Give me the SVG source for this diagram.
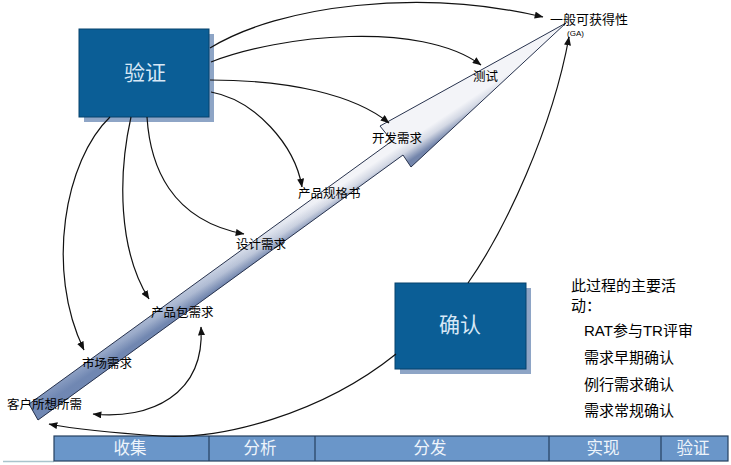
<svg xmlns="http://www.w3.org/2000/svg" width="731" height="465" viewBox="0 0 731 465">
<style>
.lbl{font-family:"Liberation Sans","Noto Sans CJK SC",sans-serif;font-size:12.5px;fill:#000}
.side{font-family:"Liberation Sans","Noto Sans CJK SC",sans-serif;font-size:15px;fill:#000}
.box{fill:#0b5e96;stroke:#07426c;stroke-width:1}
.shadow{fill:#8ea5c6}
.boxtxt{font-family:"Liberation Sans","Noto Sans CJK SC",sans-serif;font-size:21px;fill:#d8e8f6;text-anchor:middle}
.bar{fill:#6a96c9;stroke:#25405f;stroke-width:1.2}
.bartxt{font-family:"Liberation Sans","Noto Sans CJK SC",sans-serif;font-size:16.5px;fill:#eef4fb;text-anchor:middle}
.conn{fill:none;stroke:#111;stroke-width:1.2}
</style>
<defs>
<marker id="ah" viewBox="0 0 10 8" refX="9.5" refY="4" markerWidth="9" markerHeight="7" markerUnits="userSpaceOnUse" orient="auto-start-reverse">
<path d="M0,0 L10,4 L0,8 z" fill="#111"/>
</marker>
<linearGradient id="across" gradientUnits="userSpaceOnUse" x1="200" y1="279" x2="210" y2="294">
<stop offset="0" stop-color="#f3f4f8"/>
<stop offset="0.45" stop-color="#d3d8e4"/>
<stop offset="1" stop-color="#7385ab"/>
</linearGradient>
<linearGradient id="along" gradientUnits="userSpaceOnUse" x1="35" y1="412" x2="330" y2="200">
<stop offset="0" stop-color="#6f88b5" stop-opacity="0.85"/>
<stop offset="1" stop-color="#6f88b5" stop-opacity="0"/>
</linearGradient>
</defs>
<rect width="731" height="465" fill="#ffffff"/>
<line x1="3" y1="461.5" x2="54" y2="461.5" stroke="#a9c3cc" stroke-width="1.5"/>

<g id="main-arrow">
<polygon points="29,404 392,141 380,126 566,23 411,167 403,155 38,420" fill="url(#across)"/>
<polygon points="29,404 392,141 380,126 566,23 411,167 403,155 38,420" fill="url(#along)" stroke="#27324d" stroke-width="1"/>
</g>

<g id="node-verify">
<rect class="shadow" x="84" y="34" width="130" height="88"/>
<rect class="box" x="79" y="29" width="130" height="88"/>
<text class="boxtxt" x="145" y="80">验证</text>
</g>

<g id="node-confirm">
<rect class="shadow" x="400" y="288" width="131" height="86"/>
<rect class="box" x="395" y="283" width="131" height="86"/>
<text class="boxtxt" x="460" y="332">确认</text>
</g>

<g id="phase-bar">
<rect class="bar" x="54" y="436" width="674" height="25"/>
<line x1="209" y1="436" x2="209" y2="461" stroke="#25405f" stroke-width="1.2"/>
<line x1="315" y1="436" x2="315" y2="461" stroke="#25405f" stroke-width="1.2"/>
<line x1="549" y1="436" x2="549" y2="461" stroke="#25405f" stroke-width="1.2"/>
<line x1="661" y1="436" x2="661" y2="461" stroke="#25405f" stroke-width="1.2"/>
<text class="bartxt" x="130" y="454">收集</text>
<text class="bartxt" x="260" y="454">分析</text>
<text class="bartxt" x="430" y="454">分发</text>
<text class="bartxt" x="603" y="454">实现</text>
<text class="bartxt" x="693" y="454">验证</text>
</g>

<g id="connectors">
<path class="conn" d="M210,48 C280,5 420,-12 543,17" marker-end="url(#ah)"/>
<path class="conn" d="M211,62 C280,35 420,20 481,65" marker-end="url(#ah)"/>
<path class="conn" d="M210,80 C290,80 355,95 389,123" marker-end="url(#ah)"/>
<path class="conn" d="M211,92 C255,100 295,145 302,187" marker-end="url(#ah)"/>
<path class="conn" d="M147,117 C150,165 170,220 244,234" marker-end="url(#ah)"/>
<path class="conn" d="M131,117 C118,175 118,250 149,299" marker-end="url(#ah)"/>
<path class="conn" d="M110,117 C65,160 45,270 84,350" marker-end="url(#ah)"/>
<path class="conn" d="M396,354 C320,415 220,440 160,436 C115,433 80,430 49,424" marker-end="url(#ah)"/>
<path class="conn" d="M468,283 C505,230 552,130 569,37" marker-end="url(#ah)"/>
<path class="conn" d="M93,414 C150,420 205,395 201,327" marker-start="url(#ah)" marker-end="url(#ah)"/>
</g>

<g id="labels">
<text class="lbl" x="550" y="24" style="font-size:13px">一般可获得性</text>
<text class="lbl" x="567" y="36" style="font-size:8px">(GA)</text>
<text class="lbl" x="473" y="81">测试</text>
<text class="lbl" x="372" y="143">开发需求</text>
<text class="lbl" x="298" y="198">产品规格书</text>
<text class="lbl" x="236" y="249">设计需求</text>
<text class="lbl" x="151" y="317">产品包需求</text>
<text class="lbl" x="82" y="368">市场需求</text>
<text class="lbl" x="7" y="409">客户所想所需</text>
</g>

<g id="activities">
<text class="side" x="571" y="291">此过程的主要活</text>
<text class="side" x="571" y="311">动：</text>
<text class="side" x="584" y="336">RAT参与TR评审</text>
<text class="side" x="584" y="363">需求早期确认</text>
<text class="side" x="584" y="390">例行需求确认</text>
<text class="side" x="584" y="416">需求常规确认</text>
</g>
</svg>
